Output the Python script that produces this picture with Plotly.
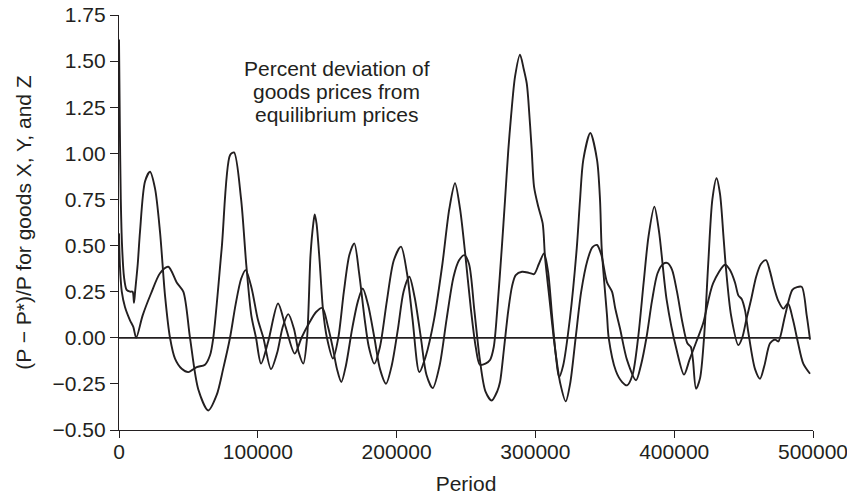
import plotly.graph_objects as go

# ---- data ----
x1 = [0, 600, 1300, 2200, 3600, 5500, 8000, 9800, 10800, 11600, 13500, 15130, 18730, 22340,
      25940, 29540, 33140, 36750, 40350, 45180, 49930, 55980, 61960, 65570, 67940, 73990,
      79980, 82860, 87900, 91720, 95320, 98710, 102310, 107500, 114560, 120000, 126590,
      131500, 137000, 142000, 146480, 150580, 154180, 157060, 160170, 163500, 168000,
      172190, 175580, 179400, 184000, 188050, 192370, 196500, 201000, 205000, 209160,
      213000, 217500, 221500, 226020, 231000, 236000, 241000, 245000, 248790, 252180,
      256000, 260000, 264000, 268530, 272500, 274510, 277500, 280500, 283200, 285830,
      290360, 295400, 299010, 302500, 306210, 309100, 312000, 314800, 317020, 320000,
      324950, 329800, 332150, 334500, 339570, 344400, 346560, 347750, 351600, 352800,
      358000, 362500, 366010, 370000, 374000, 378000, 381500, 385690, 389000, 394600,
      401800, 407080, 411000, 416000, 420800, 428000, 436630, 440000, 443800, 446210,
      448600, 451000, 453400, 458240, 461840, 465000, 469050, 472650, 475030, 479850,
      485110, 488500, 491890, 495490, 497870]
y1 = [1.617, 1.15, 0.75, 0.50, 0.33, 0.26, 0.25, 0.25, 0.19, 0.25, 0.40, 0.575, 0.847, 0.900,
      0.810, 0.575, 0.230, 0.000, -0.113, -0.168, -0.186, -0.159, -0.146, -0.095, 0.000, 0.485,
      0.990, 1.005, 0.756, 0.394, 0.122, 0.000, -0.140, -0.020, 0.186, 0.060, -0.086,
      0.000, 0.080, 0.140, 0.162, 0.060, -0.060, -0.170, -0.240, -0.150, 0.050,
      0.200, 0.267, 0.180, 0.000, -0.170, -0.249, -0.150, 0.050, 0.250, 0.331,
      0.220, 0.000, -0.200, -0.273, -0.150, 0.100, 0.330, 0.420, 0.448, 0.400,
      0.150, -0.120, -0.290, -0.340, -0.290, -0.240, -0.050, 0.150, 0.280, 0.340,
      0.358, 0.352, 0.345, 0.400, 0.457, 0.360, 0.120, -0.100, -0.213, -0.150,
      0.110, 0.486, 0.747, 0.965, 1.110, 0.965, 0.747, 0.486, 0.120, 0.000,
      -0.180, -0.240, -0.258, -0.200, 0.000, 0.300, 0.550, 0.711, 0.580, 0.204,
      -0.068, -0.200, -0.120, -0.020, 0.077, 0.295, 0.396, 0.370, 0.300, 0.230,
      0.210, 0.150, 0.030, -0.170, -0.222, -0.150, -0.030, -0.010, -0.020, 0.120,
      0.260, 0.275, 0.276, 0.120, -0.010]

x2 = [0, 700, 2000, 4300, 7930, 10300, 12400, 17000, 23060, 29540, 35520, 41570, 46330,
      51160, 57150, 64340, 70380, 75000, 79980, 84000, 88000, 91260, 95500, 100000, 104000,
      109520, 114000, 118000, 121970, 126000, 129500, 132790, 135500, 138000, 140000, 141000,
      142300, 144500, 147000, 149800, 154180, 158000, 162000, 166000, 169530, 173000, 177000,
      180000, 183940, 188000, 193000, 198000, 203180, 207500, 211500, 216370, 221000,
      227000, 233000, 238000, 242090, 245700, 249500, 253600, 257000, 260000, 264000,
      267300, 270000, 272500, 275780, 278120, 280500, 282450, 285350, 288920, 291500,
      293750, 294900, 297330, 299010, 302100, 305250, 306900, 310000, 314000, 318000,
      321850, 325000, 329000, 333000, 337500, 341000, 344400, 347500, 351600, 355200,
      357500, 360970, 366000, 372500, 376000, 380000, 384000, 388000, 392000, 395200,
      398400, 402000, 406000, 409500, 412000, 413500, 415730, 418600, 421500, 424500,
      427500, 430500, 433000, 435500, 437300, 441000, 446210, 449000, 452000, 455500,
      459000, 462500, 466160, 469000, 472000, 475000, 478630, 482010, 485500, 489000,
      493000, 497860]
y2 = [0.566, 0.385, 0.25, 0.167, 0.095, 0.059, 0.000, 0.120, 0.240, 0.350, 0.385, 0.300, 0.250,
      0.000, -0.280, -0.394, -0.310, -0.170, 0.000, 0.180, 0.320, 0.367, 0.270, 0.100, 0.000,
      -0.170, -0.080, 0.060, 0.128, 0.050, -0.080, -0.140, 0.000, 0.450, 0.620, 0.669,
      0.620, 0.420, 0.150, 0.000, -0.113, 0.000, 0.250, 0.450, 0.512, 0.350, 0.100,
      -0.050, -0.140, -0.050, 0.200, 0.420, 0.494, 0.350, 0.100, -0.186, -0.100,
      0.100, 0.400, 0.700, 0.838, 0.700, 0.450, 0.150, -0.050, -0.146, -0.140,
      -0.120, -0.050, 0.150, 0.486, 0.747, 1.020, 1.200, 1.417, 1.535, 1.460,
      1.380, 1.290, 1.020, 0.820, 0.710, 0.620, 0.440, 0.220, -0.050, -0.250,
      -0.345, -0.250, 0.000, 0.250, 0.420, 0.490, 0.503, 0.450, 0.300, 0.250,
      0.160, 0.050, -0.120, -0.230, -0.150, 0.000, 0.200, 0.350, 0.400, 0.405,
      0.370, 0.250, 0.080, -0.030, -0.050, -0.120, -0.276, -0.220, 0.000, 0.400,
      0.750, 0.865, 0.780, 0.550, 0.376, 0.120, -0.040, 0.000, 0.100, 0.210,
      0.330, 0.400, 0.421, 0.360, 0.270, 0.200, 0.158, 0.186, 0.100, -0.020,
      -0.140, -0.195]

zero_x = [0, 497870]
zero_y = [0, 0]

x_ticks = [0, 100000, 200000, 300000, 400000, 500000]
x_tick_text = ["0", "100000", "200000", "300000", "400000", "500000"]
y_ticks = [-0.5, -0.25, 0, 0.25, 0.5, 0.75, 1.0, 1.25, 1.5, 1.75]
y_tick_text = ["\u22120.50", "\u22120.25", "0.00", "0.25", "0.50", "0.75", "1.00", "1.25", "1.50", "1.75"]

note_lines = ["Percent deviation of", "goods prices from", "equilibrium prices"]
note_x = 157000
note_y = [1.459, 1.334, 1.209]

x_title = "Period"
y_title = "(P \u2212 P*)/P for goods X, Y, and Z"

# ---- figure ----
INK = "#231f20"
FONT = "Liberation Sans, Arial, Helvetica, sans-serif"
FS = 21

fig = go.Figure()
fig.add_trace(go.Scatter(x=zero_x, y=zero_y, mode="lines",
                         line=dict(color=INK, width=1.8), hoverinfo="skip"))
fig.add_trace(go.Scatter(x=x1, y=y1, mode="lines",
                         line=dict(color=INK, width=1.9, shape="spline", smoothing=0.8)))
fig.add_trace(go.Scatter(x=x2, y=y2, mode="lines",
                         line=dict(color=INK, width=1.9, shape="spline", smoothing=0.8)))

for txt, yy in zip(note_lines, note_y):
    fig.add_annotation(x=note_x, y=yy, text=txt, showarrow=False,
                       xanchor="center", yanchor="middle",
                       font=dict(family=FONT, size=FS, color=INK))

fig.update_layout(
    width=847, height=495,
    margin=dict(l=119, r=34, t=15, b=65, autoexpand=False),
    paper_bgcolor="white", plot_bgcolor="white",
    showlegend=False,
    font=dict(family=FONT, size=FS, color=INK),
)
fig.update_xaxes(
    range=[0, 500000], tickvals=x_ticks, ticktext=x_tick_text,
    showline=True, linecolor=INK, linewidth=1.3, mirror=False,
    ticks="outside", ticklen=7, tickwidth=1.3, tickcolor=INK,
    ticklabelstandoff=-4, ticklabeloverflow="allow",
    showgrid=False, zeroline=False, automargin=False,
    title=dict(text=x_title, standoff=14, font=dict(family=FONT, size=FS, color=INK)),
)
fig.update_yaxes(
    range=[-0.5, 1.75], tickvals=y_ticks, ticktext=y_tick_text,
    showline=True, linecolor=INK, linewidth=1.3,
    ticks="outside", ticklen=8, tickwidth=1.3, tickcolor=INK,
    ticklabeloverflow="allow",
    showgrid=False, zeroline=False, automargin=False,
    title=dict(text=y_title, standoff=15, font=dict(family=FONT, size=FS, color=INK)),
)

fig.write_html("out.html",
               config={"displayModeBar": False},
               post_script="document.body.style.margin='0';document.body.style.overflow='hidden';")
